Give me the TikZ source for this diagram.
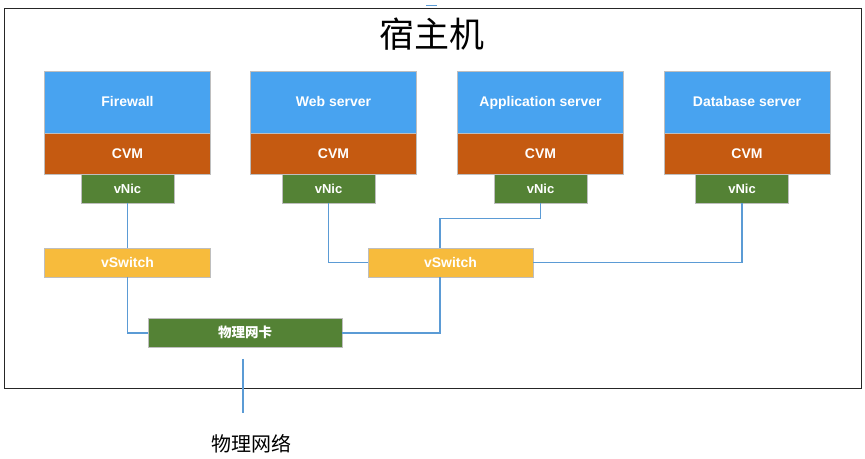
\documentclass[tikz,border=0pt]{standalone}
\usepackage{fontspec}
\setmainfont{Liberation Sans}
\newfontfamily\cjk{Noto Sans CJK SC}
\usepackage{tikz}
\usepackage{xcolor}
\usetikzlibrary{positioning}
\definecolor{vmblue}{RGB}{72, 163, 240}
\definecolor{cvmorange}{RGB}{197, 90, 17}
\definecolor{nicgreen}{RGB}{84, 130, 53}
\definecolor{switchyellow}{RGB}{247, 187, 60}
\definecolor{linkblue}{RGB}{91, 155, 213}
\definecolor{edgegray}{RGB}{190, 190, 190}

\begin{document}
\begin{tikzpicture}[x=1pt, y=1pt,
    box/.style={draw=edgegray, line width=0.5pt, inner sep=0pt, outer sep=0pt, text=white, text height=10pt, text depth=0pt, font=\bfseries\fontsize{14}{16}\selectfont},
    server/.style={box, fill=vmblue, minimum width=166pt, minimum height=62pt},
    cvm/.style={box, fill=cvmorange, minimum width=166pt, minimum height=41pt},
    vnic/.style={box, fill=nicgreen, minimum width=93pt, minimum height=29pt, text height=9.4pt, font=\bfseries\fontsize{13}{15}\selectfont},
    vswitch/.style={box, fill=switchyellow, minimum width=166pt, minimum height=29pt},
    link/.style={linkblue, line width=1.2pt}]
        \useasboundingbox (0,0) rectangle (865,458);

        % Host frame
        \draw[line width=1pt, black!85] (4,449) rectangle (861,69);
        \draw[linkblue, line width=1pt] (426,452) -- (437,452);
        \node[font=\cjk\fontsize{35}{40}\selectfont] (host) at (431.5,424) {宿主机};

        % Virtual machines
        \node[server] (fw) at (127.5,356) {Firewall};
        \node[cvm, below=0pt of fw] (fwcvm) {CVM};
        \node[vnic, below=0pt of fwcvm] (fwnic) {vNic};

        \node[server] (web) at (333.5,356) {Web server};
        \node[cvm, below=0pt of web] (webcvm) {CVM};
        \node[vnic, below=0pt of webcvm, xshift=-5pt] (webnic) {vNic};

        \node[server] (app) at (540.5,356) {Application server};
        \node[cvm, below=0pt of app] (appcvm) {CVM};
        \node[vnic, below=0pt of appcvm] (appnic) {vNic};

        \node[server] (db) at (747,356) {Database server};
        \node[cvm, below=0pt of db] (dbcvm) {CVM};
        \node[vnic, below=0pt of dbcvm, xshift=-5pt] (dbnic) {vNic};

        % Switches
        \node[vswitch] (fwsw) at (127.5,195.5) {vSwitch};
        \node[vswitch, minimum width=165pt] (sw) at (450.5,195.5) {vSwitch};

        % Physical NIC
        \node[box, fill=nicgreen, minimum width=194pt, minimum height=29pt, font=\cjk\bfseries\fontsize{13.5}{15}\selectfont] (nic) at (245,125) {物理网卡};

        % Links
        \draw[link] (fwnic.south) -- (fwsw.north);
        \draw[link] (fwsw.south) |- (nic.west);
        \draw[link] (webnic.south) |- (sw.west);
        \draw[link] (appnic.south) -- ++(0,-15.7) -| ([xshift=-10.5pt]sw.north);
        \draw[link] (dbnic.south) |- (sw.east);
        \draw[link] ([xshift=-10.5pt]sw.south) |- (nic.east);

        % Uplink to physical network
        \coordinate (uptop) at (243,99);
        \coordinate (upbot) at (243,45);
        \draw[link] (uptop) -- (upbot);
        \node[font=\cjk\fontsize{20}{24}\selectfont] (net) at (251,14.5) {物理网络};
    \end{tikzpicture}
\end{document}
